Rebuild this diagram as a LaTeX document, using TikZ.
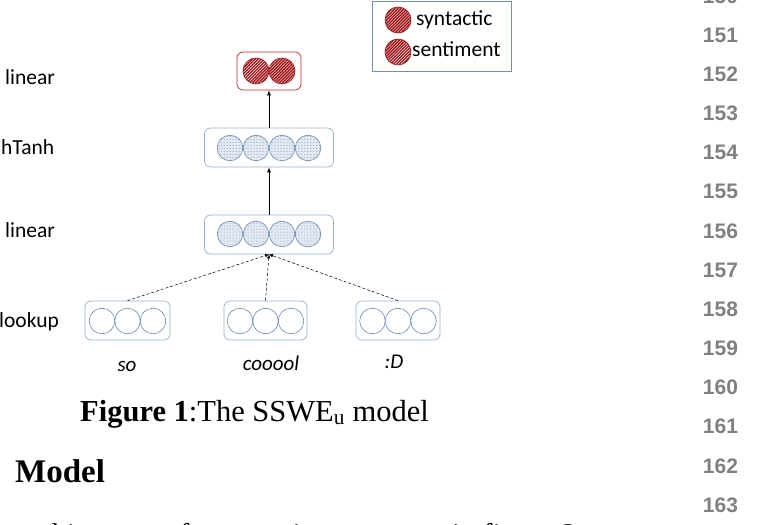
\documentclass[tikz,border=0pt]{standalone}
\usepackage{fontspec}
\setmainfont{Liberation Serif}
\newfontfamily\calib{Carlito}
\newfontfamily\arialfam{Liberation Sans}
\usetikzlibrary{patterns,arrows.meta}
\definecolor{boxblue}{RGB}{150,178,210}
\definecolor{circblue}{RGB}{105,140,182}
\definecolor{dotfill}{RGB}{226,233,242}
\definecolor{dotcol}{RGB}{120,148,182}
\definecolor{hred}{RGB}{158,18,24}
\definecolor{redbox}{RGB}{192,40,48}
\definecolor{lngray}{RGB}{128,128,128}
\definecolor{legblue}{RGB}{110,145,185}
\tikzset{
  layer/.style={draw=boxblue, rounded corners=6bp, line width=0.7bp, minimum height=39bp, inner sep=0},
  neuron/.style={circle, draw=circblue, line width=0.6bp, minimum size=25.6bp, inner sep=0},
  dneuron/.style={neuron, preaction={fill=dotfill}, pattern=dots, pattern color=dotcol},
  hneuron/.style={circle, draw=hred, line width=0.6bp, minimum size=26bp, inner sep=0, preaction={fill=hred}, pattern=north east lines, pattern color=white},
  arr/.style={-{Latex[length=5bp,width=4bp]}, line width=0.7bp},
  feed/.style={densely dashed, line width=0.5bp, -{Latex[length=4bp,width=3.5bp]}},
  sanslab/.style={font=\calib\fontsize{21.5bp}{24bp}\selectfont, inner sep=0},
  word/.style={font=\calib\itshape\fontsize{21bp}{24bp}\selectfont, inner sep=0, anchor=base},
  lnum/.style={font=\arialfam\bfseries\fontsize{21bp}{24bp}\selectfont, text=lngray, inner sep=0},
}
\begin{document}
\begin{tikzpicture}[x=1bp,y=-1bp]
\useasboundingbox (0,0) rectangle (762,525);

% legend
\node[draw=legblue, line width=0.7bp, fill=white, minimum width=139bp, minimum height=70bp, inner sep=0, anchor=north west] (leg) at (372,1) {};
\node[hneuron] (ls1) at (398,20) {};
\node[hneuron] (ls2) at (398,52) {};
\node[sanslab, anchor=base west] (lt1) at (416,26) {syntactic};
\node[sanslab, anchor=base west] (lt2) at (412,57) {sentiment};

% output layer
\node[layer, draw=redbox, minimum width=64bp, minimum height=38bp] (out) at (269,71) {};
\node[hneuron] (o1) at (256,71) {};
\node[hneuron] (o2) at (282,71) {};

% hTanh layer
\node[layer, minimum width=129bp] (ht) at (269,147.5) {};
\foreach \i/\x in {1/230,2/256,3/282,4/308}
  \node[dneuron] (h\i) at (\x,148) {};

% linear layer
\node[layer, minimum width=129bp] (lin) at (269,234.5) {};
\foreach \i/\x in {1/230,2/256,3/282,4/308}
  \node[dneuron] (l\i) at (\x,234) {};

% lookup layers
\node[layer, minimum width=85bp] (lk1) at (127.5,320.5) {};
\node[layer, minimum width=83bp] (lk2) at (265.5,320.5) {};
\node[layer, minimum width=84bp] (lk3) at (398,320.5) {};
\foreach \b/\c in {a/127.5,b/265.5,c/398}{
  \node[neuron] (\b1) at (\c-25.5,321) {};
  \node[neuron] (\b2) at (\c,321) {};
  \node[neuron] (\b3) at (\c+25.5,321) {};
}

% connectors
\draw[arr] (ht.north) -- (out.south);
\draw[arr] (lin.north) -- (ht.south);
\draw[feed] (lk1.north) -- (lin.south);
\draw[feed] (lk2.north) -- (lin.south);
\draw[feed] (lk3.north) -- (lin.south);

% layer labels
\node[sanslab, anchor=base west] (t1) at (5,85) {linear};
\node[sanslab, anchor=base west] (t2) at (1,155) {hTanh};
\node[sanslab, anchor=base west] (t3) at (5,238) {linear};
\node[sanslab, anchor=base west] (t4) at (-1,327) {lookup};

% words
\node[word] (w1) at (127,371) {so};
\node[word] (w2) at (271,370) {cooool};
\node[word] (w3) at (394,368) {:D};

% caption and text
\node[anchor=base west, inner sep=0, font=\fontsize{30.5bp}{34bp}\selectfont] (cap) at (80,421) {\textbf{Figure 1}:The SSWE\textsubscript{u} model};
\node[anchor=base west, inner sep=0, font=\bfseries\fontsize{33bp}{36bp}\selectfont] (sec) at (15,482) {Model};
\node[anchor=base west, inner sep=0, font=\fontsize{30bp}{34bp}\selectfont] (body) at (15,544) {architecture of our sentiment one as in figure 2};

% line numbers
\foreach \n in {150,...,163}
  \node[lnum] (ln\n) at (720.5,{35+(\n-151)*39.17}) {\n};
\end{tikzpicture}
\end{document}
